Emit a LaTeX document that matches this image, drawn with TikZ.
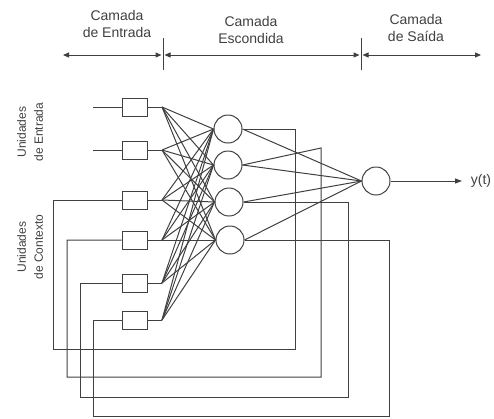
\documentclass[tikz,border=0pt]{standalone}
\usepackage{fontspec}
\setmainfont{Liberation Sans}
\usetikzlibrary{arrows.meta}
\tikzset{
    unit/.style={rectangle, draw, minimum width=25pt, minimum height=18pt,
    	inner sep=0pt},
    neuron/.style={circle, draw, minimum size=28pt, inner sep=0pt}
}
\tikzset{
    layertext/.style={align=center, font=\fontsize{14}{17}\selectfont},
    sidetext/.style={align=center, rotate=90, font=\fontsize{12}{17}\selectfont}
}
\tikzset{
	layerspan/.style={{Triangle[length=6pt,width=5pt]}-{Triangle[length=6pt,width=5pt]}}
}

\begin{document}
\begin{tikzpicture}[x=1pt, y=-1pt, line width=1pt, color=black!75]
	\useasboundingbox (0,0) rectangle (494,418);
	% layer headings
	\node (tin) [layertext] at (117,24) {Camada\\de Entrada};
	\node (thid) [layertext] at (251,30) {Camada\\Escondida};
	\node (tout) [layertext] at (416,28) {Camada\\de Saída};
	\coordinate (s0) at (63,55); \coordinate (s1) at (163,55);
	\coordinate (s2) at (361,55); \coordinate (s3) at (481,55);
	\draw ([yshift=17pt]s1) -- ([yshift=-15pt]s1);
	\draw ([yshift=17pt]s2) -- ([yshift=-15pt]s2);
	\draw [layerspan] (s0) -- ([xshift=-1.5pt]s1);
	\draw [layerspan] ([xshift=1.5pt]s1) -- ([xshift=-1.5pt]s2);
	\draw [layerspan] ([xshift=1.5pt]s2) -- (s3);
	
	\node (lin) [sidetext] at (30,132) {Unidades\\de Entrada};
	\node (lctx) [sidetext] at (30,247) {Unidades\\de Contexto};
	
	% units
	\node (e1) [unit] at (134.5,107) {};
	\node (e2) [unit] at (134.5,150) {};
	\node (e3) [unit] at (134.5,200) {};
	\node (e4) [unit] at (134.5,240) {};
	\node (e5) [unit] at (134.5,283) {};
	\node (e6) [unit] at (134.5,320) {};
	\coordinate (f1) at (162,107); \coordinate (f2) at (162,150);
	\coordinate (f3) at (162,200); \coordinate (f4) at (162,240);
	\coordinate (f5) at (162,283); \coordinate (f6) at (162,320);
	
	\node (h1) [neuron] at (228,129) {};
	\node (h2) [neuron] at (228,165) {};
	\node (h3) [neuron] at (229,202) {};
	\node (h4) [neuron] at (230,240) {};
	\node (o) [neuron] at (376,181) {};
	
	\coordinate (x1) at (93,107); \coordinate (x2) at (93,150);
	\draw (x1) -- (e1.west); \draw (x2) -- (e2.west);
	\draw (e1.east) -- (f1); \draw (e2.east) -- (f2); \draw (e3.east) -- (f3);
	\draw (e4.east) -- (f4); \draw (e5.east) -- (f5); \draw (e6.east) -- (f6);
	
	\draw (f1) edge (h1.west) edge (h2.west) edge (h3.west) edge (h4.west);
	\draw (f2) edge (h1.west) edge (h2.west) edge (h3.west) edge (h4.west);
	\draw (f3) edge (h1.west) edge (h2.west) edge (h3.west) edge (h4.west);
	\draw (f4) edge (h1.west) edge (h2.west) edge (h3.west) edge (h4.west);
	\draw (f5) edge (h1.west) edge (h2.west) edge (h3.west) edge (h4.west);
	\draw (f6) edge (h1.west) edge (h2.west) edge (h3.west) edge (h4.west);
	
	\draw (h1.east) edge (o.west); \draw (h2.east) edge (o.west);
	\draw (h3.east) edge (o.west); \draw (h4.east) edge (o.west);
	
	\coordinate (yend) at (462,181);
	\draw [-{Triangle[length=7pt,width=5pt]}] (o.east) -- (yend);
	\node (yt) [layertext] at (481,181) {y(t)};
	
	% context feedback
	\coordinate (k1) at (295,349); \coordinate (m1) at (53,349);
	\coordinate (p2) at (321,148);
	\coordinate (k2) at (321,377); \coordinate (m2) at (67,377);
	\coordinate (k3) at (348,397); \coordinate (m3) at (80,397);
	\coordinate (k4) at (389,416); \coordinate (m4) at (93,416);
	\draw (h1.east) -| (k1) -- (m1) |- (e3.west);
	\draw (h2.east) -- (p2) -- (k2) -- (m2) |- (e4.west);
	\draw (h3.east) -| (k3) -- (m3) |- (e5.west);
	\draw (h4.east) -| (k4) -- (m4) |- (e6.west);
\end{tikzpicture}
\end{document}
